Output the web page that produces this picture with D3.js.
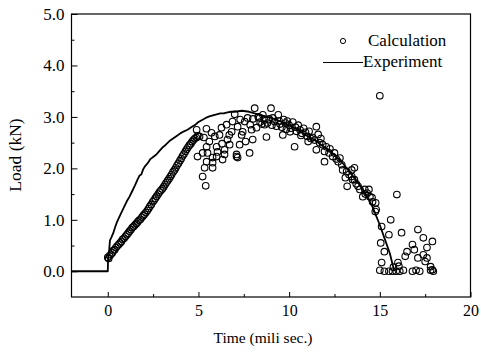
<!DOCTYPE html>
<html><head><meta charset="utf-8">
<script src="https://cdn.jsdelivr.net/npm/d3@7"></script>
<style>body{margin:0;background:#fff}svg{display:block}</style>
</head><body>
<svg id="c" width="481" height="352" style="font-family:'Liberation Serif','Times New Roman','DejaVu Serif',serif"></svg>
<script>
// ---- data ----
const xTicks = [0, 5, 10, 15, 20];
const xMinor = [2.5, 7.5, 12.5, 17.5];
const yTicks = [0, 1, 2, 3, 4, 5];
const yMinor = [0.5, 1.5, 2.5, 3.5, 4.5];
const seriesNames = ["Calculation", "Experiment"];

const expTime = [-2.0,0.0,0.02,0.08,0.12,0.2,0.3,0.4,0.5,0.6,0.75,0.9,1.05,1.2,1.35,1.5,1.64,1.75,1.85,1.95,2.05,2.2,2.35,2.5,2.68,2.85,3.0,3.2,3.4,3.6,3.8,4.0,4.2,4.4,4.6,4.8,5.0,5.2,5.4,5.6,5.8,6.0,6.2,6.4,6.6,6.8,7.0,7.2,7.4,7.6,7.8,8.0,8.3,8.6,9.0,9.4,9.8,10.2,10.6,11.0,11.4,11.8,12.2,12.6,13.0,13.4,13.8,14.2,14.6,15.0,15.3,15.55,15.8];
const expLoad = [0,0,0.28,0.42,0.60,0.66,0.74,0.85,0.95,1.03,1.14,1.25,1.36,1.45,1.56,1.67,1.78,1.86,1.88,1.98,2.04,2.10,2.18,2.22,2.27,2.34,2.40,2.46,2.53,2.58,2.63,2.68,2.72,2.75,2.80,2.84,2.90,2.94,2.98,3.01,3.03,3.05,3.07,3.07,3.09,3.10,3.10,3.11,3.12,3.11,3.10,3.08,3.05,3.02,2.98,2.93,2.87,2.80,2.72,2.63,2.55,2.45,2.35,2.23,2.08,1.90,1.72,1.52,1.25,0.90,0.60,0.35,0.0];

const calcRise = [[0.00,0.27],[0.05,0.25],[0.10,0.30],[0.18,0.33],[0.25,0.36],[0.30,0.40],[0.38,0.42],[0.45,0.46],[0.52,0.49],[0.60,0.52],[0.68,0.55],[0.75,0.58],[0.82,0.62],[0.90,0.64],[0.98,0.68],[1.05,0.71],[1.12,0.74],[1.20,0.78],[1.28,0.81],[1.35,0.85],[1.42,0.87],[1.50,0.90],[1.58,0.93],[1.65,0.96],[1.72,0.99],[1.80,1.01],[1.88,1.05],[1.95,1.08],[2.02,1.11],[2.10,1.14],[2.18,1.18],[2.25,1.22],[2.32,1.26],[2.40,1.30],[2.48,1.35],[2.55,1.38],[2.62,1.42],[2.70,1.46],[2.78,1.50],[2.85,1.54],[2.92,1.57],[3.00,1.60],[3.08,1.64],[3.15,1.68],[3.22,1.72],[3.30,1.76],[3.38,1.80],[3.45,1.84],[3.52,1.88],[3.60,1.93],[3.68,1.97],[3.75,2.01],[3.82,2.06],[3.90,2.10],[3.98,2.15],[4.05,2.19],[4.12,2.24],[4.20,2.28],[4.28,2.33],[4.35,2.37],[4.42,2.41],[4.50,2.45],[4.58,2.48],[4.65,2.52],[4.72,2.55],[4.80,2.58],[4.88,2.60],[4.95,2.63]];

const calcScatter = [[5.23,1.84],[5.4,1.66],[4.95,2.23],[5.45,2.13],[5.78,2.11],[6.0,2.23],[6.33,2.17],[7.1,2.23],[7.82,2.30],[5.23,2.30],[5.78,2.21],[6.44,2.27],[7.16,2.21],[5.34,2.01],[5.78,2.01],[5.45,2.42],[6.0,2.42],[6.72,2.46],[7.27,2.46],[5.5,2.30],[6.05,2.32],[6.44,2.36],[7.1,2.27],[5.06,2.62],[6.16,2.65],[6.83,2.71],[7.44,2.71],[7.93,2.75],[8.2,2.79],[6.6,2.56],[7.38,2.65],[7.99,2.56],[5.44,2.77],[6.27,2.79],[6.88,2.91],[7.55,2.91],[8.1,3.17],[5.72,2.69],[7.16,2.81],[7.71,2.98],[8.37,2.98],[8.65,2.85],[4.9,2.75],[5.3,2.60],[5.9,2.62],[6.55,2.85],[7.0,3.05],[7.3,2.95],[7.85,2.85],[8.0,2.96],[6.7,2.65],[5.6,2.52],[6.3,2.48],[7.6,2.52]];

const calcDecline = [[8.3,3.00],[8.4,2.90],[8.5,2.86],[8.55,3.04],[8.65,2.94],[8.75,2.61],[8.8,2.88],[8.9,2.96],[9.0,3.17],[9.05,2.84],[9.1,2.98],[9.2,2.91],[9.3,2.82],[9.4,3.04],[9.45,2.92],[9.5,2.86],[9.6,2.80],[9.65,2.65],[9.7,2.95],[9.8,2.88],[9.85,2.76],[9.9,2.92],[10.0,2.84],[10.05,2.71],[10.1,2.78],[10.2,2.90],[10.3,2.42],[10.35,2.80],[10.4,2.72],[10.5,2.84],[10.6,2.75],[10.65,2.64],[10.7,2.68],[10.8,2.78],[10.9,2.70],[11.0,2.62],[11.05,2.52],[11.1,2.72],[11.2,2.58],[11.3,2.60],[11.4,2.55],[11.5,2.81],[11.5,2.36],[11.6,2.66],[11.68,2.50],[11.75,2.58],[11.85,2.46],[11.95,2.33],[11.95,2.13],[12.05,2.42],[12.2,2.30],[12.25,2.38],[12.4,2.23],[12.5,2.30],[12.6,2.18],[12.7,2.13],[12.8,2.20],[12.9,2.07],[12.95,1.97],[13.1,1.82],[13.17,1.94],[13.2,1.65],[13.3,1.88],[13.45,1.97],[13.45,1.84],[13.5,1.78],[13.6,2.01],[13.6,1.78],[13.7,1.70],[13.8,1.65],[13.9,1.59],[14.06,1.45],[14.17,1.59],[14.2,1.50],[14.3,1.52],[14.4,1.59],[14.45,1.45],[14.57,1.43],[14.6,1.35],[14.77,1.33],[14.8,1.20],[14.75,1.16]];

const calcTail = [[15.0,3.41],[15.94,1.49],[15.6,1.0],[15.1,0.87],[15.5,0.71],[16.2,0.75],[17.1,0.81],[17.4,0.65],[17.9,0.58],[17.6,0.46],[15.05,0.55],[15.25,0.38],[16.8,0.52],[16.5,0.38],[16.4,0.29],[16.9,0.42],[17.1,0.26],[17.4,0.32],[17.5,0.19],[17.8,0.09],[17.9,0.03],[15.1,0.17],[16.0,0.17],[17.6,0.26],[15.0,0.02],[15.25,0.0],[15.5,0.0],[15.7,0.0],[15.9,0.0],[16.1,0.0],[16.3,0.02],[16.8,0.0],[17.0,0.02],[17.2,0.0],[17.8,0.02],[17.95,0.0],[15.75,0.08],[16.05,0.1]];

// ---- drawing ----
const FONT = "'Liberation Serif','Times New Roman','DejaVu Serif',serif";
const svg = d3.select("#c");
const L = 71.5, R = 470.5, T = 14, B = 297;
const x = d3.scaleLinear().domain([-2, 20]).range([L, R]);
const y = d3.scaleLinear().domain([-0.5, 5]).range([B, T]);

const gx = svg.append("g").attr("transform", `translate(0,${B})`)
  .call(d3.axisBottom(x).tickValues(xTicks).tickSizeInner(-5).tickSizeOuter(0).tickPadding(8).tickFormat(d3.format("d")));
const gxm = svg.append("g").attr("transform", `translate(0,${B})`)
  .call(d3.axisBottom(x).tickValues(xMinor).tickSizeInner(-3).tickSizeOuter(0).tickFormat(""));
const gy = svg.append("g").attr("transform", `translate(${L},0)`)
  .call(d3.axisLeft(y).tickValues(yTicks).tickSizeInner(-6).tickSizeOuter(0).tickPadding(7).tickFormat(d3.format(".1f")));
const gym = svg.append("g").attr("transform", `translate(${L},0)`)
  .call(d3.axisLeft(y).tickValues(yMinor).tickSizeInner(-3).tickSizeOuter(0).tickFormat(""));
[[gx, 16], [gxm, 16], [gy, 17], [gym, 17]].forEach(([g, fs]) => {
  g.attr("font-family", FONT).attr("font-size", fs);
  g.select(".domain").remove();
  g.selectAll("line").attr("stroke", "#000").attr("stroke-width", 1);
  g.selectAll("text").attr("font-family", FONT).attr("font-size", fs).attr("fill", "#000");
});

svg.append("rect").attr("x", L).attr("y", T).attr("width", R - L).attr("height", B - T)
  .attr("fill", "none").attr("stroke", "#000").attr("stroke-width", 1.2);

const expData = expTime.map((t, i) => [t, expLoad[i]]);
svg.append("path").datum(expData)
  .attr("d", d3.line().x(d => x(d[0])).y(d => y(d[1])))
  .attr("fill", "none").attr("stroke", "#000").attr("stroke-width", 1.8).attr("stroke-linejoin", "round");

const calc = [].concat(calcRise, calcScatter, calcDecline, calcTail);
svg.append("g").selectAll("circle").data(calc).join("circle")
  .attr("cx", d => x(d[0])).attr("cy", d => y(d[1])).attr("r", 3.3)
  .attr("fill", "none").attr("stroke", "#000").attr("stroke-width", 1.1);

function label(px, py, txt, anchor, fs, tf) {
  const t = svg.append("text").attr("font-family", FONT).attr("font-size", fs).attr("fill", "#000")
    .attr("text-anchor", anchor).text(txt);
  if (tf) t.attr("transform", tf); else t.attr("x", px).attr("y", py);
  return t;
}
label(263, 343, "Time (mili sec.)", "middle", 15.5);
label(0, 0, "Load (kN)", "middle", 17.5, "translate(21,155) rotate(-90)");

svg.append("circle").attr("cx", 343).attr("cy", 41).attr("r", 2.6)
  .attr("fill", "none").attr("stroke", "#000").attr("stroke-width", 1);
label(368, 46, seriesNames[0], "start", 17);
svg.append("line").attr("x1", 323).attr("x2", 363).attr("y1", 62.5).attr("y2", 62.5)
  .attr("stroke", "#000").attr("stroke-width", 1.2);
label(363, 67, seriesNames[1], "start", 17);
</script>
</body></html>
